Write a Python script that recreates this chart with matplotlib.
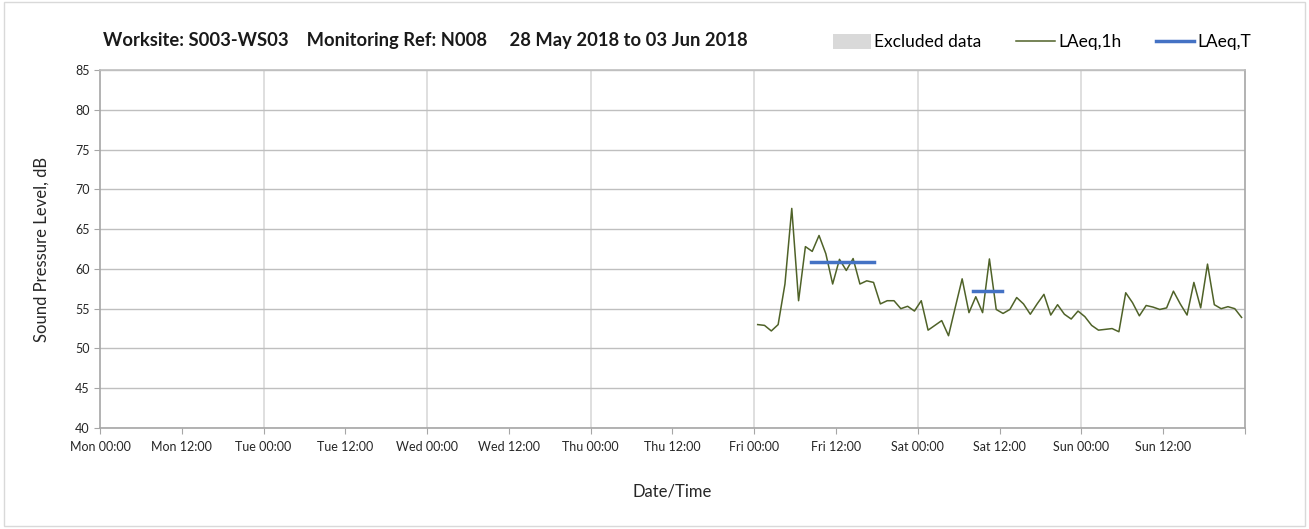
import numpy as np
import matplotlib
matplotlib.use("Agg")
import matplotlib.pyplot as plt
from matplotlib.patches import Patch, Rectangle
from matplotlib.lines import Line2D

plt.rcParams["font.family"] = ["Lato", "DejaVu Sans"]

# hours since Mon 00:00; hourly values start at Fri 00:30
start_hour = 96.5
laeq_1h = [53.0, 52.9, 52.2, 53.0, 58.1, 67.6, 56.0, 62.8, 62.2, 64.2,
           61.9, 58.1, 61.2, 59.8, 61.3, 58.1, 58.5, 58.3, 55.6, 56.0,
           56.0, 55.0, 55.3, 54.7, 56.0, 52.3, 52.9, 53.5, 51.6, 55.2,
           58.75, 54.5, 56.5, 54.5, 61.25, 54.9, 54.4, 54.9, 56.4, 55.6,
           54.3, 55.6, 56.8, 54.2, 55.5, 54.3, 53.7, 54.7, 54.0, 52.9,
           52.3, 52.4, 52.5, 52.1, 57.0, 55.75, 54.1, 55.4, 55.2, 54.9,
           55.1, 57.2, 55.6, 54.2, 58.3, 55.1, 60.6, 55.5, 55.0, 55.25,
           55.0, 53.9]

# LAeq,T periods (start hour, end hour, level)
period_start = [104.3, 128.1]
period_end = [113.5, 132.3]
period_level = [60.9, 57.25]

tick_labels = ["Mon 00:00", "Mon 12:00", "Tue 00:00", "Tue 12:00",
               "Wed 00:00", "Wed 12:00", "Thu 00:00", "Thu 12:00",
               "Fri 00:00", "Fri 12:00", "Sat 00:00", "Sat 12:00",
               "Sun 00:00", "Sun 12:00", ""]

hours = start_hour + np.arange(len(laeq_1h))

fig = plt.figure(figsize=(13.09, 5.29), dpi=100)
fig.patches.append(Rectangle((0.003, 0.006), 0.994, 0.99, transform=fig.transFigure,
                             fill=False, edgecolor="#D9D9D9", linewidth=1))
ax = fig.add_axes([0.0764, 0.1909, 0.8747, 0.6768])

green = "#4F6228"
blue = "#4472C4"

ax.plot(hours, laeq_1h, color=green, linewidth=1.1, zorder=3)
for s, e, v in zip(period_start, period_end, period_level):
    ax.plot([s, e], [v, v], color=blue, linewidth=2.5, zorder=4)

ax.set_xlim(0, 168)
ax.set_ylim(40, 85)
ax.set_yticks(np.arange(40, 86, 5))
ax.set_xticks(np.arange(0, 169, 12))
ax.set_xticklabels(tick_labels)

# horizontal grid at each 5 dB, vertical grid only at midnights
ax.grid(axis="y", color="#BFBFBF", linewidth=1)
for h in range(24, 168, 24):
    ax.axvline(h, color="#D9D9D9", linewidth=1.2, zorder=0)
ax.set_axisbelow(True)

for sp in ax.spines.values():
    sp.set_color("#A6A6A6")
    sp.set_linewidth(1.2)
ax.spines["top"].set_color("#BFBFBF")
ax.tick_params(axis="both", colors="#A6A6A6", labelcolor="#262626", length=4,
               labelsize=9)
ax.tick_params(axis="x", pad=5)

ax.set_ylabel("Sound Pressure Level, dB", fontsize=12, color="#262626", labelpad=18)
ax.set_xlabel("Date/Time", fontsize=12, color="#262626", labelpad=22)

fig.text(0.079, 0.924, "Worksite: S003-WS03    Monitoring Ref: N008     28 May 2018 to 03 Jun 2018",
         fontsize=13.2, fontweight="bold", color="#1a1a1a", va="center")

handles = [Patch(facecolor="#D9D9D9", edgecolor="none", label="Excluded data"),
           Line2D([], [], color=green, linewidth=1.1, label="LAeq,1h"),
           Line2D([], [], color=blue, linewidth=2.5, label="LAeq,T")]
fig.legend(handles=handles, loc="center right", bbox_to_anchor=(0.968, 0.92), ncol=3,
           frameon=False, fontsize=12.5, handlelength=2.2, handletextpad=0.2,
           columnspacing=2.0, handleheight=0.9)

fig.savefig("out.png", dpi=100)
